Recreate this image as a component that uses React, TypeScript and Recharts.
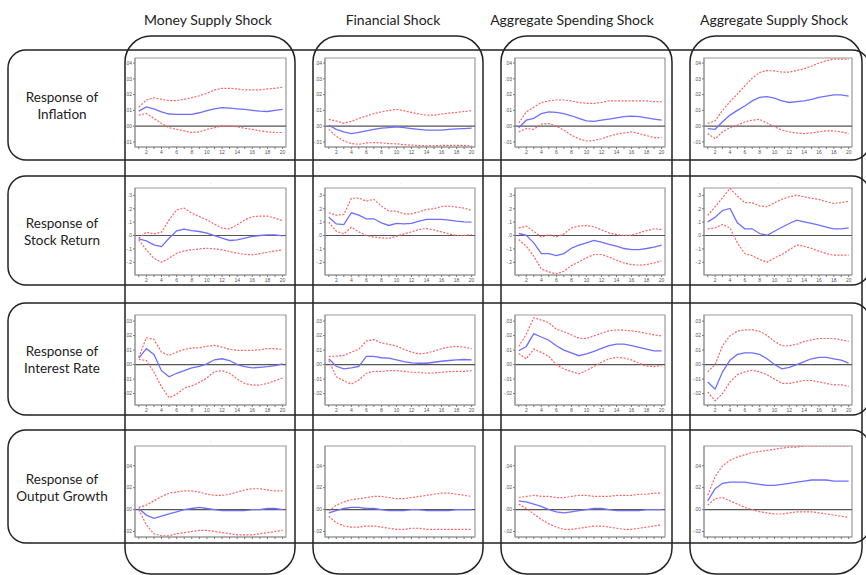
import React from 'react';
import { LineChart, Line, XAxis, YAxis, ReferenceLine, ReferenceArea } from 'recharts';

// periods after the shock
const periods = [1, 2, 3, 4, 5, 6, 7, 8, 9, 10, 11, 12, 13, 14, 15, 16, 17, 18, 19, 20];

const shocks = ['Money Supply Shock', 'Financial Shock', 'Aggregate Spending Shock', 'Aggregate Supply Shock'];
const responses = [
  ['Response of', 'Inflation'],
  ['Response of', 'Stock Return'],
  ['Response of', 'Interest Rate'],
  ['Response of', 'Output Growth'],
];

// tick values per row
const infTicks = [-0.01, 0, 0.01, 0.02, 0.03, 0.04];
const stkTicks = [-0.2, -0.1, 0, 0.1, 0.2, 0.3];
const intTicks = [-0.02, -0.01, 0, 0.01, 0.02, 0.03];
const outTicks = [-0.02, 0, 0.02, 0.04];

// ---- Response of Inflation ----
const infMoneyIrf = [0.0095, 0.0122, 0.011, 0.009, 0.0077, 0.0075, 0.0075, 0.0075, 0.0085, 0.0098, 0.011, 0.0118, 0.0115, 0.011, 0.0106, 0.01, 0.0095, 0.0093, 0.01, 0.0106];
const infMoneyHi = [0.012, 0.0166, 0.018, 0.017, 0.0162, 0.0162, 0.017, 0.018, 0.0193, 0.0208, 0.023, 0.024, 0.024, 0.0236, 0.023, 0.023, 0.023, 0.0236, 0.024, 0.0247];
const infMoneyLo = [0.007, 0.008, 0.005, 0.0017, -0.001, -0.002, -0.003, -0.004, -0.0036, -0.002, -0.001, 0.0002, 0.0002, -0.0004, -0.0013, -0.002, -0.003, -0.0036, -0.004, -0.004];

const infFinIrf = [0.0006, -0.002, -0.0036, -0.0047, -0.004, -0.003, -0.002, -0.0013, -0.0009, -0.0004, -0.0009, -0.0015, -0.002, -0.0025, -0.0025, -0.0025, -0.002, -0.0017, -0.0015, -0.0013];
const infFinHi = [0.0043, 0.0032, 0.002, 0.003, 0.005, 0.0064, 0.008, 0.009, 0.01, 0.0106, 0.0098, 0.0087, 0.0077, 0.007, 0.007, 0.0077, 0.0083, 0.0087, 0.0093, 0.0098];
const infFinLo = [-0.002, -0.0064, -0.0094, -0.011, -0.0115, -0.0106, -0.0104, -0.0106, -0.011, -0.0112, -0.0117, -0.012, -0.0122, -0.0124, -0.0124, -0.0122, -0.0122, -0.0122, -0.0122, -0.0125];

const infSpendIrf = [-0.001, 0.0038, 0.005, 0.008, 0.009, 0.0087, 0.008, 0.0066, 0.005, 0.0034, 0.003, 0.0038, 0.0045, 0.0053, 0.006, 0.0064, 0.006, 0.0053, 0.0045, 0.0038];
const infSpendHi = [0.002, 0.009, 0.012, 0.015, 0.016, 0.0166, 0.0166, 0.016, 0.015, 0.0145, 0.0145, 0.015, 0.016, 0.016, 0.016, 0.016, 0.016, 0.016, 0.0155, 0.0155];
const infSpendLo = [-0.0036, -0.0015, -0.002, 0.0013, 0.0017, 0.0, -0.0025, -0.0057, -0.008, -0.0094, -0.009, -0.008, -0.0064, -0.005, -0.0043, -0.0036, -0.0047, -0.006, -0.0072, -0.0072];

const infSupplyIrf = [-0.0015, -0.002, 0.0028, 0.007, 0.01, 0.0128, 0.016, 0.0183, 0.0187, 0.0177, 0.016, 0.015, 0.0155, 0.016, 0.017, 0.0183, 0.019, 0.0198, 0.0198, 0.019];
const infSupplyHi = [0.0017, 0.0034, 0.01, 0.0155, 0.0204, 0.0255, 0.0304, 0.034, 0.0353, 0.035, 0.0343, 0.0343, 0.0353, 0.0364, 0.038, 0.04, 0.0415, 0.0425, 0.0425, 0.0425];
const infSupplyLo = [-0.0047, -0.008, -0.0036, -0.001, 0.0006, 0.0028, 0.0038, 0.0043, 0.002, -0.0004, -0.0025, -0.0036, -0.0043, -0.0047, -0.0043, -0.0036, -0.003, -0.003, -0.0036, -0.0047];

// ---- Response of Stock Return ----
const stkMoneyIrf = [-0.025, -0.04, -0.07, -0.083, -0.02, 0.035, 0.047, 0.037, 0.03, 0.017, 0.0, -0.02, -0.037, -0.032, -0.02, -0.007, 0.0, 0.005, 0.005, -0.002];
const stkMoneyHi = [-0.02, 0.025, 0.012, 0.025, 0.117, 0.192, 0.205, 0.167, 0.142, 0.117, 0.085, 0.055, 0.05, 0.08, 0.117, 0.14, 0.145, 0.145, 0.13, 0.11];
const stkMoneyLo = [-0.032, -0.107, -0.17, -0.2, -0.17, -0.132, -0.115, -0.107, -0.1, -0.095, -0.1, -0.107, -0.12, -0.132, -0.14, -0.145, -0.135, -0.125, -0.115, -0.107];

const stkFinIrf = [0.137, 0.087, 0.082, 0.17, 0.152, 0.125, 0.125, 0.095, 0.075, 0.09, 0.087, 0.09, 0.107, 0.12, 0.12, 0.12, 0.115, 0.107, 0.102, 0.1];
const stkFinHi = [0.17, 0.152, 0.157, 0.277, 0.28, 0.257, 0.27, 0.22, 0.182, 0.182, 0.162, 0.162, 0.177, 0.195, 0.2, 0.217, 0.22, 0.212, 0.205, 0.187];
const stkFinLo = [0.1, 0.032, 0.012, 0.062, 0.027, 0.0, -0.012, -0.017, -0.022, -0.005, 0.012, 0.027, 0.045, 0.052, 0.042, 0.027, 0.012, 0.0, 0.0, 0.007];

const stkSpendIrf = [0.015, 0.002, -0.055, -0.135, -0.135, -0.15, -0.135, -0.095, -0.072, -0.055, -0.037, -0.05, -0.067, -0.08, -0.097, -0.105, -0.105, -0.097, -0.087, -0.072];
const stkSpendHi = [0.057, 0.07, 0.032, -0.012, 0.007, -0.01, 0.012, 0.057, 0.07, 0.075, 0.065, 0.042, 0.02, 0.007, 0.0, 0.002, 0.02, 0.037, 0.05, 0.045];
const stkSpendLo = [-0.03, -0.08, -0.155, -0.25, -0.272, -0.287, -0.267, -0.225, -0.197, -0.167, -0.142, -0.142, -0.16, -0.185, -0.205, -0.217, -0.222, -0.217, -0.205, -0.19];

const stkSupplyIrf = [0.102, 0.137, 0.187, 0.202, 0.095, 0.05, 0.05, 0.015, 0.002, 0.032, 0.062, 0.09, 0.115, 0.102, 0.09, 0.077, 0.062, 0.05, 0.05, 0.057];
const stkSupplyHi = [0.15, 0.215, 0.282, 0.352, 0.295, 0.245, 0.245, 0.22, 0.215, 0.245, 0.27, 0.29, 0.302, 0.29, 0.277, 0.27, 0.252, 0.24, 0.245, 0.257];
const stkSupplyLo = [0.05, 0.057, 0.082, 0.057, -0.055, -0.135, -0.15, -0.18, -0.2, -0.167, -0.142, -0.107, -0.072, -0.08, -0.097, -0.117, -0.135, -0.147, -0.147, -0.147];

// ---- Response of Interest Rate ----
const intMoneyIrf = [0.0045, 0.011, 0.007, -0.0042, -0.0084, -0.006, -0.0042, -0.0023, -0.0012, 0.0005, 0.0033, 0.004, 0.0028, 0.0, -0.0014, -0.0023, -0.0019, -0.0014, -0.0007, 0.0005];
const intMoneyHi = [0.005, 0.0186, 0.0174, 0.0086, 0.0063, 0.0086, 0.0105, 0.0114, 0.0116, 0.0126, 0.0133, 0.012, 0.0105, 0.0098, 0.0098, 0.0098, 0.0102, 0.011, 0.011, 0.0105];
const intMoneyLo = [0.0035, 0.0028, -0.0053, -0.0153, -0.0228, -0.0205, -0.0163, -0.0147, -0.0123, -0.0093, -0.0049, -0.0042, -0.006, -0.01, -0.013, -0.0142, -0.0142, -0.013, -0.0112, -0.0093];

const intFinIrf = [0.004, -0.0012, -0.003, -0.0023, -0.0012, 0.0056, 0.0056, 0.0047, 0.0044, 0.0033, 0.0021, 0.0012, 0.0009, 0.0009, 0.0016, 0.0023, 0.0028, 0.0033, 0.0035, 0.0033];
const intFinHi = [0.0056, 0.0058, 0.0063, 0.0086, 0.0105, 0.0163, 0.0172, 0.0149, 0.014, 0.0128, 0.0105, 0.0086, 0.0074, 0.0079, 0.0093, 0.011, 0.012, 0.0126, 0.012, 0.011];
const intFinLo = [0.0028, -0.0084, -0.0112, -0.0135, -0.0107, -0.006, -0.0047, -0.0047, -0.0042, -0.0042, -0.0047, -0.0053, -0.0053, -0.006, -0.0058, -0.0053, -0.0049, -0.0047, -0.0047, -0.0042];

const intSpendIrf = [0.0095, 0.0125, 0.0214, 0.019, 0.0168, 0.013, 0.01, 0.008, 0.0061, 0.0073, 0.0091, 0.0111, 0.013, 0.0141, 0.0141, 0.013, 0.0118, 0.0107, 0.0095, 0.0095];
const intSpendHi = [0.0125, 0.021, 0.0323, 0.0307, 0.0289, 0.0243, 0.0227, 0.0205, 0.0182, 0.018, 0.0198, 0.0216, 0.0232, 0.0239, 0.0237, 0.0232, 0.0225, 0.0216, 0.0205, 0.0198];
const intSpendLo = [0.0077, 0.0039, 0.0107, 0.0084, 0.0057, -0.0002, -0.003, -0.0048, -0.0064, -0.0041, -0.0014, 0.0016, 0.0039, 0.005, 0.0045, 0.0032, 0.0009, -0.0011, -0.0014, -0.0007];

const intSupplyIrf = [-0.012, -0.017, -0.005, 0.003, 0.007, 0.008, 0.008, 0.007, 0.004, 0.0, -0.003, -0.002, 0.0, 0.002, 0.004, 0.005, 0.005, 0.004, 0.003, 0.001];
const intSupplyHi = [-0.005, 0.0, 0.013, 0.02, 0.023, 0.024, 0.024, 0.023, 0.02, 0.016, 0.013, 0.013, 0.014, 0.016, 0.017, 0.018, 0.018, 0.018, 0.017, 0.016];
const intSupplyLo = [-0.019, -0.025, -0.02, -0.012, -0.007, -0.005, -0.004, -0.005, -0.007, -0.01, -0.013, -0.013, -0.012, -0.011, -0.011, -0.012, -0.013, -0.014, -0.014, -0.015];

// ---- Response of Output Growth ----
const outMoneyIrf = [0.001, -0.005, -0.008, -0.006, -0.004, -0.002, 0.0, 0.001, 0.002, 0.001, 0.0, -0.001, -0.001, -0.001, -0.001, 0.0, 0.0, 0.001, 0.001, 0.0];
const outMoneyHi = [0.002, 0.004, 0.008, 0.012, 0.015, 0.016, 0.017, 0.017, 0.016, 0.014, 0.013, 0.013, 0.014, 0.016, 0.018, 0.019, 0.019, 0.018, 0.017, 0.017];
const outMoneyLo = [0.0, -0.014, -0.022, -0.024, -0.024, -0.022, -0.021, -0.02, -0.019, -0.019, -0.02, -0.021, -0.022, -0.023, -0.023, -0.023, -0.022, -0.021, -0.02, -0.019];

const outFinIrf = [-0.003, -0.001, 0.001, 0.002, 0.002, 0.001, 0.001, 0.0, -0.001, -0.001, -0.001, 0.0, 0.0, -0.001, -0.001, -0.001, -0.001, 0.0, 0.0, 0.0];
const outFinHi = [-0.001, 0.004, 0.007, 0.009, 0.01, 0.011, 0.012, 0.012, 0.011, 0.01, 0.01, 0.011, 0.012, 0.013, 0.014, 0.015, 0.015, 0.014, 0.013, 0.012];
const outFinLo = [-0.006, -0.012, -0.015, -0.016, -0.016, -0.015, -0.015, -0.016, -0.017, -0.018, -0.018, -0.017, -0.017, -0.018, -0.018, -0.018, -0.018, -0.018, -0.018, -0.018];

const outSpendIrf = [0.008, 0.007, 0.005, 0.003, 0.0, -0.002, -0.003, -0.002, -0.001, 0.0, 0.001, 0.001, 0.0, -0.001, -0.001, -0.001, -0.001, 0.0, 0.0, 0.0];
const outSpendHi = [0.011, 0.012, 0.013, 0.012, 0.012, 0.011, 0.011, 0.012, 0.013, 0.013, 0.012, 0.012, 0.012, 0.013, 0.013, 0.013, 0.014, 0.014, 0.015, 0.015];
const outSpendLo = [0.005, 0.001, -0.004, -0.009, -0.013, -0.016, -0.018, -0.018, -0.017, -0.016, -0.015, -0.015, -0.016, -0.017, -0.018, -0.018, -0.017, -0.016, -0.015, -0.014];

const outSupplyIrf = [0.008, 0.019, 0.024, 0.025, 0.025, 0.025, 0.024, 0.023, 0.022, 0.022, 0.023, 0.024, 0.025, 0.026, 0.027, 0.027, 0.027, 0.026, 0.026, 0.026];
const outSupplyHi = [0.013, 0.03, 0.04, 0.045, 0.048, 0.05, 0.052, 0.053, 0.054, 0.055, 0.056, 0.057, 0.057, 0.058, 0.058, 0.058, 0.058, 0.058, 0.058, 0.058];
const outSupplyLo = [0.004, 0.01, 0.011, 0.008, 0.005, 0.002, 0.0, -0.002, -0.003, -0.004, -0.004, -0.003, -0.002, -0.002, -0.002, -0.003, -0.004, -0.005, -0.006, -0.007];

const grid = [
  [[infMoneyLo, infMoneyIrf, infMoneyHi], [infFinLo, infFinIrf, infFinHi], [infSpendLo, infSpendIrf, infSpendHi], [infSupplyLo, infSupplyIrf, infSupplyHi]],
  [[stkMoneyLo, stkMoneyIrf, stkMoneyHi], [stkFinLo, stkFinIrf, stkFinHi], [stkSpendLo, stkSpendIrf, stkSpendHi], [stkSupplyLo, stkSupplyIrf, stkSupplyHi]],
  [[intMoneyLo, intMoneyIrf, intMoneyHi], [intFinLo, intFinIrf, intFinHi], [intSpendLo, intSpendIrf, intSpendHi], [intSupplyLo, intSupplyIrf, intSupplyHi]],
  [[outMoneyLo, outMoneyIrf, outMoneyHi], [outFinLo, outFinIrf, outFinHi], [outSpendLo, outSpendIrf, outSpendHi], [outSupplyLo, outSupplyIrf, outSupplyHi]],
];

const rowScale = [
  { domain: [-0.0132, 0.0432], ticks: infTicks, digits: 2, xLabels: true, mark: false },
  { domain: [-0.295, 0.355], ticks: stkTicks, digits: 1, xLabels: true, mark: true },
  { domain: [-0.0279, 0.0342], ticks: intTicks, digits: 2, xLabels: true, mark: false },
  { domain: [-0.025, 0.058], ticks: outTicks, digits: 2, xLabels: false, mark: true },
];

// plot-area placement
const colX = [135, 325, 515, 704];
const colW = [151, 150, 150, 148];
const rowY = [58, 188, 315, 446];
const rowH = [89, 87, 90, 91];

const fmt = (v: number, d: number) => v.toFixed(d).replace(/^(-?)0\./, '$1.');

const YW = 16;
const MT = 8;
const MR = 3;
const XH = 12;

function Panel({ series, scale, left, top, width, height }: any) {
  const [lo, irf, hi] = series;
  const data = periods.map((p, i) => ({ p, lo: lo[i], irf: irf[i], hi: hi[i] }));
  const tickStyle = { fontSize: 5, fill: '#555', fontFamily: 'Liberation Sans, Arial, sans-serif' };
  return (
    <div style={{ position: 'absolute', left: left - YW, top: top - MT }}>
      <LineChart
        width={YW + width + MR}
        height={MT + height + XH}
        data={data}
        margin={{ top: MT, right: MR, left: 0, bottom: 0 }}
      >
        {scale.mark && (
          <text x={YW + width / 2} y={4} textAnchor="middle" fontSize={5} fill="#888">
            .
          </text>
        )}
        <XAxis
          dataKey="p"
          type="number"
          domain={[0.5, 20.45]}
          ticks={periods}
          interval={0}
          tickFormatter={(v: number) => (scale.xLabels && v % 2 === 0 ? String(v) : '')}
          tickSize={2}
          tickMargin={1}
          height={XH}
          axisLine={{ stroke: '#999' }}
          tickLine={{ stroke: '#777' }}
          tick={tickStyle}
          allowDataOverflow
        />
        <YAxis
          type="number"
          domain={scale.domain}
          ticks={scale.ticks}
          interval={0}
          tickFormatter={(v: number) => fmt(v, scale.digits)}
          tickSize={2}
          tickMargin={1}
          width={YW}
          axisLine={{ stroke: '#999' }}
          tickLine={{ stroke: '#777' }}
          tick={tickStyle}
          allowDataOverflow
        />
        <ReferenceArea
          x1={0.5}
          x2={20.45}
          y1={scale.domain[0]}
          y2={scale.domain[1]}
          fill="none"
          stroke="#999"
          strokeWidth={1.2}
        />
        <ReferenceLine y={0} stroke="#555" strokeWidth={1.2} />
        <Line dataKey="hi" type="linear" stroke="#ff6262" strokeWidth={1.2} strokeDasharray="2 1.5" dot={false} activeDot={false} isAnimationActive={false} />
        <Line dataKey="lo" type="linear" stroke="#ff6262" strokeWidth={1.2} strokeDasharray="2 1.5" dot={false} activeDot={false} isAnimationActive={false} />
        <Line dataKey="irf" type="linear" stroke="#6e6eff" strokeWidth={1.3} dot={false} activeDot={false} isAnimationActive={false} />
      </LineChart>
    </div>
  );
}

const headerX = [208, 393, 572, 774];
const rowBoxes = [
  { y: 50, h: 110 },
  { y: 176, h: 109 },
  { y: 303, h: 112 },
  { y: 430, h: 113 },
];
const colBoxes = [
  { x: 125, w: 170 },
  { x: 313, w: 170 },
  { x: 501, w: 171 },
  { x: 690, w: 172 },
];

export default function App() {
  const font = 'Lato, "Open Sans", sans-serif';
  return (
    <div style={{ position: 'absolute', left: 0, top: 0, width: 866, height: 575, background: '#fff', overflow: 'hidden' }}>
      {grid.map((row, r) =>
        row.map((series, c) => (
          <Panel
            key={`${r}-${c}`}
            series={series}
            scale={rowScale[r]}
            left={colX[c]}
            top={rowY[r]}
            width={colW[c]}
            height={rowH[r]}
          />
        ))
      )}
      <svg width={866} height={575} style={{ position: 'absolute', left: 0, top: 0, pointerEvents: 'none' }}>
        {rowBoxes.map((b, i) => (
          <rect key={`r${i}`} x={8} y={b.y} width={862} height={b.h} rx={18} ry={18} fill="none" stroke="#222" strokeWidth={1.5} />
        ))}
        {colBoxes.map((b, i) => (
          <rect key={`c${i}`} x={b.x} y={36} width={b.w} height={538} rx={26} ry={26} fill="none" stroke="#222" strokeWidth={1.5} />
        ))}
        {shocks.map((s, i) => (
          <text key={s} x={headerX[i]} y={25} textAnchor="middle" fontSize={14} fontFamily={font} fill="#222">
            {s}
          </text>
        ))}
        {responses.map((lines, i) => (
          <text key={i} textAnchor="middle" fontSize={13.5} fontFamily={font} fill="#222">
            <tspan x={62} y={rowBoxes[i].y + rowBoxes[i].h / 2 - 3}>{lines[0]}</tspan>
            <tspan x={62} y={rowBoxes[i].y + rowBoxes[i].h / 2 + 14}>{lines[1]}</tspan>
          </text>
        ))}
      </svg>
    </div>
  );
}
